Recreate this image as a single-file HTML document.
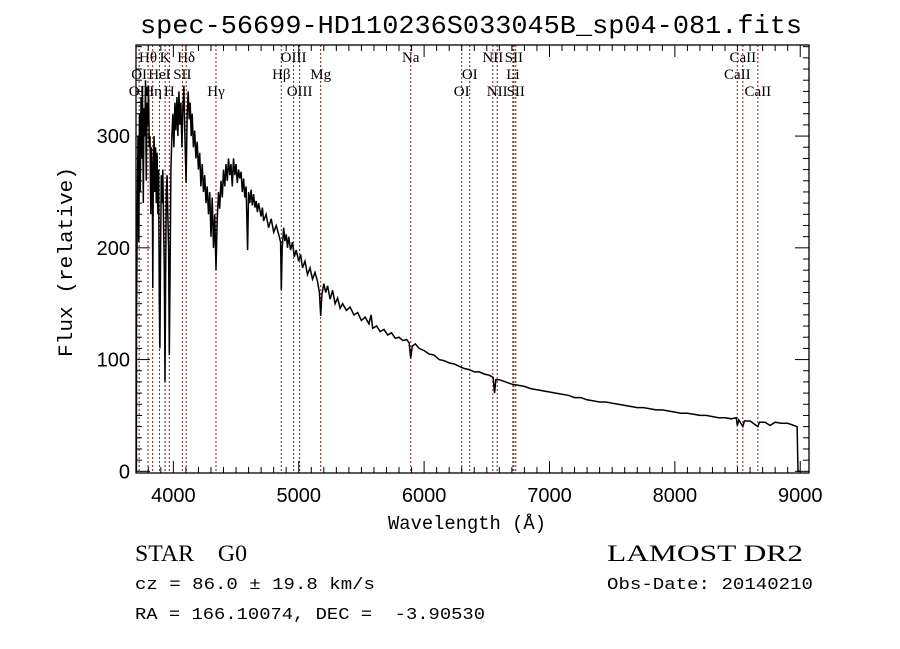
<!DOCTYPE html>
<html><head><meta charset="utf-8"><style>
body{margin:0;background:#fff;}
svg{display:block;}
text{font-family:"Liberation Sans",sans-serif;fill:#000;white-space:pre;}
.m{font-family:"Liberation Mono",monospace;}
.s{font-family:"Liberation Serif",serif;}
</style></head><body>
<svg id="chart" width="900" height="649" viewBox="0 0 900 649" xmlns="http://www.w3.org/2000/svg" xml:space="preserve">
<rect width="900" height="649" fill="#fff"/>
<text class="m" x="140" y="33" font-size="26" textLength="662" lengthAdjust="spacingAndGlyphs">spec-56699-HD110236S033045B_sp04-081.fits</text>
<g id="lines"></g>
<g id="spec"></g>
<g id="axes"></g>
<text class="m" transform="translate(72,262) rotate(-90)" text-anchor="middle" font-size="20" textLength="190" lengthAdjust="spacingAndGlyphs">Flux (relative)</text>
<text class="m" x="467" y="529" text-anchor="middle" font-size="19" textLength="158" lengthAdjust="spacingAndGlyphs">Wavelength (Å)</text>
<text class="s" x="135" y="561" font-size="23" textLength="112" lengthAdjust="spacingAndGlyphs">STAR    G0</text>
<text class="s" x="607" y="561" font-size="23" textLength="196" lengthAdjust="spacingAndGlyphs">LAMOST DR2</text>
<text class="m" x="135" y="589" font-size="17" textLength="240" lengthAdjust="spacingAndGlyphs">cz = 86.0 ± 19.8 km/s</text>
<text class="m" x="607" y="589" font-size="17" textLength="206" lengthAdjust="spacingAndGlyphs">Obs-Date: 20140210</text>
<text class="m" x="135" y="619" font-size="17" textLength="350" lengthAdjust="spacingAndGlyphs">RA = 166.10074, DEC =  -3.90530</text>
</svg>
<script>
const wave=[3705,3706,3712,3718,3724,3730,3736,3742,3748,3754,3760,3766,3772,3778,3784,3790,3796,3802,3808,3814,3820,3826,3832,3836,3840,3846,3852,3858,3864,3870,3876,3882,3888,3893,3898,3904,3910,3916,3922,3928,3933,3938,3944,3950,3956,3962,3968,3974,3980,3988,3996,4004,4012,4020,4028,4036,4044,4052,4060,4068,4076,4084,4092,4102,4110,4118,4126,4134,4142,4150,4160,4170,4180,4190,4200,4210,4220,4230,4240,4250,4260,4270,4280,4290,4300,4310,4320,4330,4340,4350,4360,4370,4380,4390,4400,4410,4420,4430,4440,4450,4460,4470,4480,4490,4500,4510,4520,4530,4540,4550,4560,4570,4580,4592,4600,4610,4620,4630,4640,4650,4660,4670,4680,4700,4710,4720,4740,4760,4780,4800,4820,4840,4855,4861,4868,4880,4890,4900,4910,4920,4935,4950,4965,4980,5000,5015,5030,5050,5070,5090,5110,5130,5150,5165,5175,5185,5200,5215,5230,5250,5270,5290,5310,5330,5350,5380,5410,5440,5470,5500,5530,5560,5577,5590,5620,5650,5680,5710,5740,5770,5800,5830,5860,5880,5893,5905,5930,5960,6000,6040,6080,6120,6160,6200,6240,6280,6320,6360,6400,6440,6480,6520,6550,6562,6572,6600,6650,6700,6750,6800,6850,6900,6950,7000,7050,7100,7150,7200,7250,7300,7350,7400,7450,7500,7550,7600,7650,7700,7750,7800,7850,7900,7950,8000,8050,8100,8150,8200,8250,8300,8350,8400,8450,8490,8498,8510,8542,8555,8600,8662,8675,8720,8760,8800,8850,8900,8950,8975,8982,9000];
const flux=[0,130,235,300,205,320,250,335,280,345,240,325,300,350,260,330,310,345,290,300,230,290,260,164,270,300,250,290,240,285,230,270,150,110,200,265,240,270,220,180,80,170,250,265,230,200,104,180,270,300,320,290,330,305,335,300,340,310,330,290,325,345,300,258,320,340,315,330,300,320,290,305,280,295,270,285,255,275,250,265,240,255,230,250,210,245,200,230,180,225,250,235,260,245,270,255,275,260,280,265,275,255,280,265,275,258,270,262,268,250,262,245,255,198,250,240,252,238,248,236,242,232,240,228,236,224,230,218,226,214,220,212,205,162,200,218,206,212,200,210,198,205,192,198,188,194,182,188,176,182,172,178,170,160,139,158,168,160,166,154,162,150,155,146,150,144,147,140,142,135,138,132,140,128,130,125,127,122,124,119,120,117,118,115,101,112,114,110,108,105,104,100,99,97,96,94,92,91,89,89,87,86,84,70,82,82,80,78,77,76,74,73,72,71,70,69,68,66,66,64,63,62,62,61,60,59,58,57,57,56,55,55,54,53,52,52,51,50,50,49,48,48,47,48,41,46,40,45,45,40,44,44,41,44,43,43,41,40,0,0];
const lineWaves=[3727,3798,3835,3889,3934,3968,4072,4102,4340,4861,4959,5007,5175,5893,6300,6364,6548,6583,6708,6716,6731,8498,8542,8662];
const labelText=["Hθ","K","Hδ","OIII","Na","NII","SII","CaII","OI","HeI","SII","Hβ","Mg","OI","Li","CaII","OII","Hη","H","Hγ","OIII","OI","NII","SII","CaII"];
const labelWave=[3798,3934,4102,4959,5893,6548,6716,8542,3727,3889,4072,4861,5175,6364,6708,8498,3727,3835,3968,4340,5007,6300,6583,6731,8662];
const labelRow=[0,0,0,0,0,0,0,0,1,1,1,1,1,1,1,1,2,2,2,2,2,2,2,2,2];
const xTicks=[4000,5000,6000,7000,8000,9000];
const yTicks=[0,100,200,300];
const X0=136,X1=809,Y0=45,Y1=473;
const xMin=3702,xMax=9070,yMin=-1.5,yMax=381.5;
const NS='http://www.w3.org/2000/svg';
function sx(w){return X0+(w-xMin)/(xMax-xMin)*(X1-X0);}
function sy(v){return Y1-(v-yMin)/(yMax-yMin)*(Y1-Y0);}
function mk(tag,parent){const e=document.createElementNS(NS,tag);parent.appendChild(e);return e;}
const gl=document.getElementById('lines');
lineWaves.forEach(w=>{const l=mk('line',gl);


l.setAttribute('x1',sx(w));l.setAttribute('x2',sx(w));l.setAttribute('y1',Y0);l.setAttribute('y2',Y1);
l.setAttribute('stroke','#7a1f1f');l.setAttribute('stroke-width','1');l.setAttribute('stroke-dasharray','2,2');});
labelText.forEach((t,i)=>{const e=mk('text',gl);


e.setAttribute('class','s');e.setAttribute('font-size','15');e.setAttribute('text-anchor','middle');
e.setAttribute('x',sx(labelWave[i]));e.setAttribute('y',62+labelRow[i]*17);e.textContent=t;});
const gs=document.getElementById('spec');
const p=mk('polyline',gs);


p.setAttribute('points',wave.map((w,i)=>sx(w).toFixed(1)+','+sy(flux[i]).toFixed(1)).join(' '));
p.setAttribute('fill','none');p.setAttribute('stroke','#000');p.setAttribute('stroke-width','1.5');
const ga=document.getElementById('axes');
const fr=mk('rect',ga);


fr.setAttribute('x',X0);fr.setAttribute('y',Y0);fr.setAttribute('width',X1-X0);fr.setAttribute('height',Y1-Y0);
fr.setAttribute('fill','none');fr.setAttribute('stroke','#000');fr.setAttribute('stroke-width','1.3');
function tick(x1,y1,x2,y2){const t=mk('line',ga);


t.setAttribute('x1',x1);t.setAttribute('y1',y1);t.setAttribute('x2',x2);t.setAttribute('y2',y2);t.setAttribute('stroke','#000');t.setAttribute('stroke-width','1');}
for(let w=3800;w<=9000;w+=100){const major=w%1000===0;const L=major?12:6;const x=sx(w);tick(x,Y1,x,Y1-L);tick(x,Y0,x,Y0+L);}
for(let v=0;v<=380;v+=10){const major=v%100===0;const L=major?14:6;const y=sy(v);tick(X0,y,X0+L,y);tick(X1,y,X1-L,y);}
xTicks.forEach(w=>{const e=mk('text',ga);


e.setAttribute('x',sx(w));e.setAttribute('y',Y1+29);e.setAttribute('text-anchor','middle');e.setAttribute('font-size','20');e.textContent=w;});
yTicks.forEach(v=>{const e=mk('text',ga);


e.setAttribute('x',X0-6);e.setAttribute('y',sy(v)+7);e.setAttribute('text-anchor','end');e.setAttribute('font-size','20');e.textContent=v;});
</script>
</body></html>
